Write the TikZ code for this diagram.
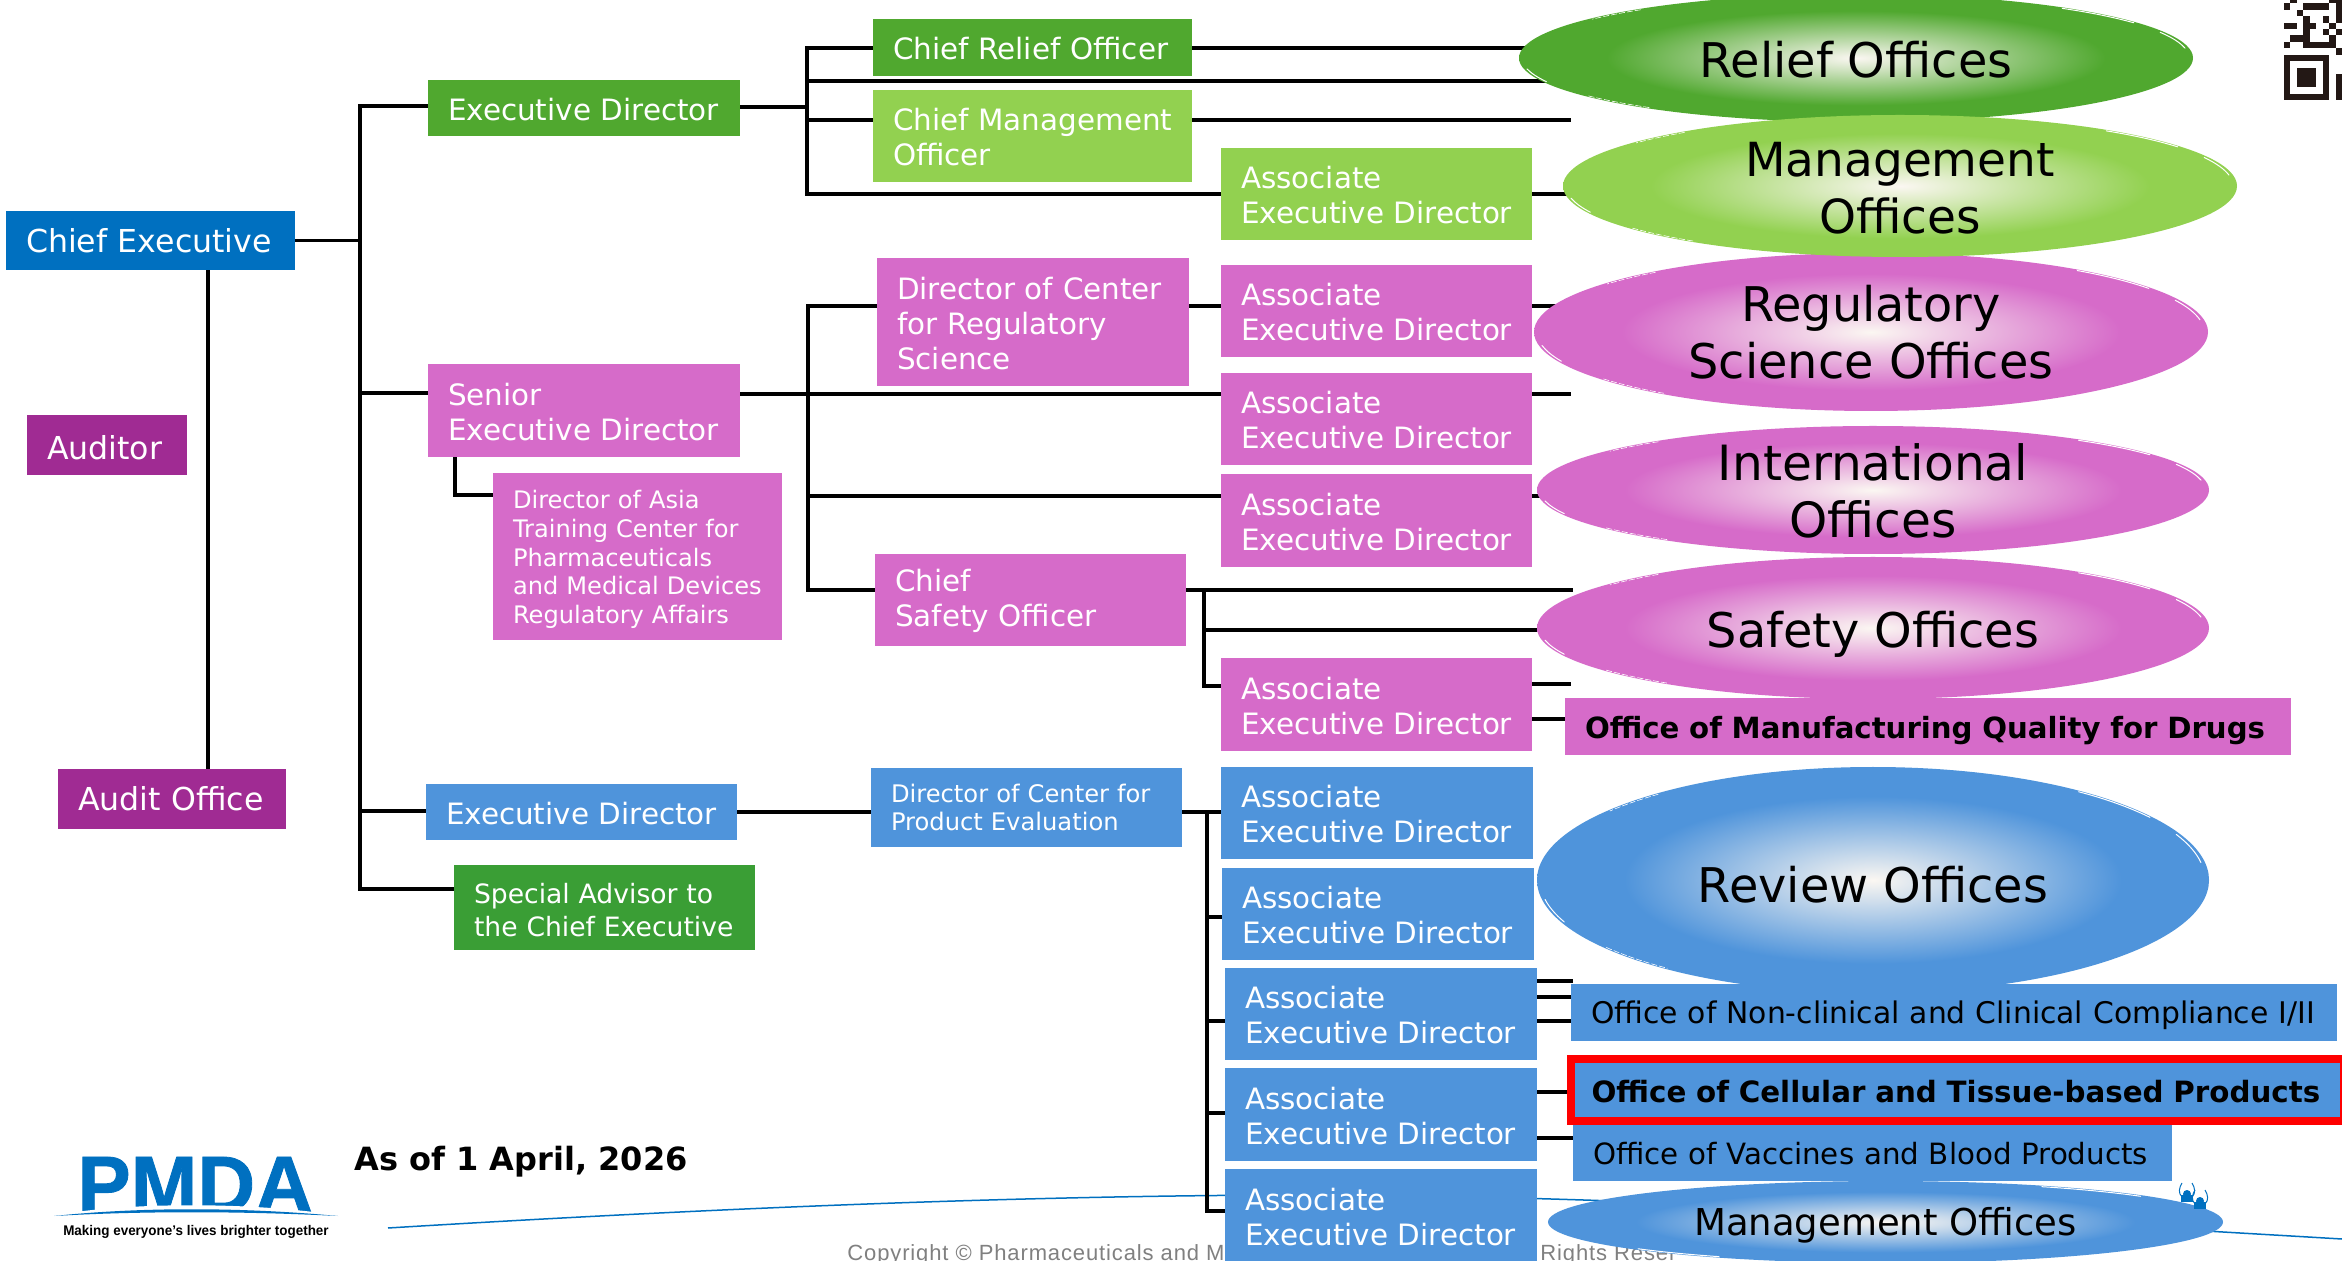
\documentclass[tikz,border=0pt]{standalone}
\usepackage{fontspec}
\setmainfont{DejaVu Sans}
\newfontfamily\lfont{Liberation Sans}
\newfontfamily\logofont[FakeBold=1]{Liberation Sans}
\newfontfamily\cfont[LetterSpace=4]{Liberation Sans}
\usetikzlibrary{shapes.geometric,backgrounds,calc}
\definecolor{cgreen}{HTML}{50A82F}
\definecolor{cgreenb}{HTML}{3A9E35}
\definecolor{clight}{HTML}{92D150}
\definecolor{cpink}{HTML}{D66BC9}
\definecolor{cblue}{HTML}{4F94DB}
\definecolor{cchief}{HTML}{0070C0}
\definecolor{cpurple}{HTML}{A02B93}
\definecolor{cctr}{HTML}{FBF7F2}
\definecolor{cqr}{HTML}{231815}
\definecolor{cgrey}{HTML}{808080}
\pgfdeclareradialshading{shgreen}{\pgfpointorigin}{color(0bp)=(cctr); color(18.5bp)=(cgreen); color(100bp)=(cgreen)}
\pgfdeclareradialshading{shlight}{\pgfpointorigin}{color(0bp)=(cctr); color(18.5bp)=(clight); color(100bp)=(clight)}
\pgfdeclareradialshading{shpink}{\pgfpointorigin}{color(0bp)=(cctr); color(18.5bp)=(cpink); color(100bp)=(cpink)}
\pgfdeclareradialshading{shblue}{\pgfpointorigin}{color(0bp)=(cctr); color(18.5bp)=(cblue); color(100bp)=(cblue)}
\newcommand{\low}[2]{\raisebox{-#1}[\height][\depth]{#2}}
\newcommand{\lowtwo}[2]{\raisebox{-#1}[\height][\depth]{\begin{tabular}{@{}c@{}}#2\end{tabular}}}
\newcommand{\boxtop}{1.2pt}
\newcommand{\bs}[1][10pt]{\leftskip=#1\relax\rule{0pt}{\dimexpr0.76em+\boxtop\relax}}
\tikzset{
  ln/.style={black,line width=1.9pt,line cap=rect},
  boxb/.style={inner xsep=0pt,inner ysep=0pt,outer sep=0pt,align=left,text=white,font=\fontsize{14.7}{17.5}\selectfont},
  noshift/.style={execute at begin node={\renewcommand{\boxtop}{0pt}}},
  shiftby/.style={execute at begin node={\renewcommand{\boxtop}{#1}}},
  bchief/.style={boxb,noshift,fill=cchief,font=\fontsize{15.8}{19}\selectfont},
  bpurple/.style={boxb,noshift,fill=cpurple,font=\fontsize{15.8}{19}\selectfont},
  bdg/.style={boxb,fill=cgreenb},
  bg/.style={boxb,fill=cgreen},
  bl/.style={boxb,fill=clight},
  bp/.style={boxb,fill=cpink},
  bb/.style={boxb,fill=cblue},
  off/.style={boxb,text=black},
  ell/.style={ellipse,inner xsep=-60pt,inner ysep=-40pt,outer sep=0pt,shade,align=center,text=black,font=\fontsize{23.9}{28.6}\selectfont},
  glint/.style={white,line width=0.5pt,line cap=round},
  glintd/.style={white,line width=0.3pt,dash pattern=on 3pt off 1pt},
}
\newcommand{\bx}[7]{\node[#2,anchor=north west,minimum width={(#5-#3)*0.5pt},minimum height={(#6-#4)*0.5pt},text width={(#5-#3)*0.5pt}] (#1) at (#3,-#4) {\bs #7\par};}
\newcommand{\el}[7]{\node[ell,shading=#2,minimum width={2*#5*0.5pt},minimum height={2*#6*0.5pt}] (#1) at (#3,-#4) {#7};
  \draw[glint] ([shift={(9:#5-4 and #6-1)}]#1.center) arc[start angle=9,end angle=24,x radius=#5-4,y radius=#6-1];
  \draw[glint] ([shift={(34:#5-2 and #6-1)}]#1.center) arc[start angle=34,end angle=52,x radius=#5-2,y radius=#6-1];
  \draw[glintd] ([shift={(130:#5-2 and #6-1)}]#1.center) arc[start angle=130,end angle=142,x radius=#5-2,y radius=#6-1];
  \draw[glint] ([shift={(190:#5-3 and #6-1)}]#1.center) arc[start angle=190,end angle=202,x radius=#5-3,y radius=#6-1];
  \draw[glintd] ([shift={(217:#5-2 and #6-1)}]#1.center) arc[start angle=217,end angle=232,x radius=#5-2,y radius=#6-1];}
\begin{document}
\begin{tikzpicture}[x=0.5pt,y=0.5pt]
\useasboundingbox (0,0) rectangle (2342,-1261);
\clip (0,0) rectangle (2342,-1261);
% left column
\bx{ce}{bchief}{6}{211}{295}{270}{Chief Executive}
\bx{aud}{bpurple,shiftby=2.5pt}{27}{415}{187}{475}{Auditor}
\bx{ao}{bpurple}{58}{769}{286}{829}{Audit Office}
\bx{edg}{bg,shiftby=1.5pt}{428}{80}{740}{136}{Executive Director}
\bx{sed}{bp}{428}{364}{740}{457}{Senior\\Executive Director}
\bx{asia}{bp,font=\fontsize{12.05}{14.4}\selectfont,shiftby=3pt}{493}{473}{782}{640}{Director of Asia\\Training Center for\\Pharmaceuticals\\and Medical Devices\\Regulatory Affairs}
\bx{edb}{bb,shiftby=1.5pt}{426}{784}{737}{840}{Executive Director}
\bx{spa}{bdg,font=\fontsize{13.3}{16.5}\selectfont,shiftby=3pt}{454}{865}{755}{950}{Special Advisor to\\the Chief Executive}
% second column
\bx{cro}{bg,shiftby=1.5pt}{873}{19}{1192}{76}{Chief Relief Officer}
\bx{cmo}{bl}{873}{90}{1192}{182}{Chief Management\\Officer}
\bx{dcr}{bp,shiftby=1.5pt}{877}{258}{1189}{386}{Director of Center\\for Regulatory\\Science}
\bx{cso}{bp}{875}{554}{1186}{646}{Chief\\Safety Officer}
\bx{dcp}{bb,font=\fontsize{12.1}{13.8}\selectfont,noshift}{871}{768}{1182}{847}{Director of Center for\\Product Evaluation}
% third column
\bx{a0}{bl}{1221}{148}{1532}{240}{Associate\\Executive Director}
\bx{a1}{bp}{1221}{265}{1532}{357}{Associate\\Executive Director}
\bx{a2}{bp}{1221}{373}{1532}{465}{Associate\\Executive Director}
\bx{a3}{bp}{1221}{474}{1532}{567}{Associate\\Executive Director}
\bx{a4}{bp}{1221}{658}{1532}{751}{Associate\\Executive Director}
\bx{a5}{bb}{1221}{767}{1533}{859}{Associate\\Executive Director}
\bx{a6}{bb}{1222}{868}{1534}{960}{Associate\\Executive Director}
\bx{a7}{bb}{1225}{968}{1537}{1060}{Associate\\Executive Director}
\bx{a8}{bb}{1225}{1068}{1537}{1161}{Associate\\Executive Director}
\bx{a9}{bb}{1225}{1169}{1537}{1262}{Associate\\Executive Director}
% ellipses
\el{rel}{shgreen}{1856}{58}{337}{64}{\low{0.75pt}{Relief Offices}}
\el{reg}{shpink}{1871}{332}{337}{79}{Regulatory\\Science Offices}
\el{mg}{shlight}{1900}{186}{337}{71}{\fontsize{23.5}{28.6}\selectfont\lowtwo{3.75pt}{Management\\Offices}}
\el{intl}{shpink}{1873}{490}{336}{64}{\fontsize{24.3}{28.6}\selectfont\lowtwo{3.75pt}{International\\Offices}}
\el{saf}{shpink}{1873}{628}{336}{71}{\low{3pt}{Safety Offices}}
\el{rev}{shblue}{1873}{880}{336}{113}{\low{2.25pt}{Review Offices}}
\node[ell,shading=shblue,minimum width=337.5pt,minimum height=41pt,font=\fontsize{18.5}{22}\selectfont] (mgb) at (1885.5,-1222) {\low{1.5pt}{Management Offices}};
% right offices
\bx{omq}{off,fill=cpink,font=\fontsize{14.6}{17}\selectfont\bfseries,shiftby=4.5pt}{1565}{698}{2291}{755}{Office of Manufacturing Quality for Drugs}
\bx{onc}{off,fill=cblue,font=\fontsize{14.9}{17}\selectfont,shiftby=3pt}{1571}{984}{2337}{1041}{Office of Non-clinical and Clinical Compliance I/II}
\bx{ovb}{off,fill=cblue,font=\fontsize{14.65}{17}\selectfont,shiftby=1.5pt}{1573}{1124}{2172}{1181}{Office of Vaccines and Blood Products}
\node[off,fill=cblue,draw=red,line width=4pt,anchor=north west,minimum width=386.5pt,minimum height=31pt,text width=386.5pt,font=\fontsize{14.66}{17}\selectfont\bfseries,shiftby=1.5pt] (ocl) at (1570.5,-1059) {\bs[10.5pt]Office of Cellular and Tissue-based Products\par};
% footer, date, logo
\node[anchor=west,inner sep=0pt,font=\fontsize{16}{19}\selectfont\bfseries] (asof) at (354,-1161.5) {As of 1 April, 2026};
\node[anchor=base west,inner sep=0pt,text=cchief,font=\fontsize{40}{40}\logofont\bfseries] (pmda) at (77,-1212) {PMDA};
\fill[white] (56,-1232) -- (56,-1215) .. controls (130,-1202) and (250,-1202) .. (336,-1215) -- (336,-1232) -- cycle;
\fill[cchief] (54,-1216) .. controls (140,-1207) and (240,-1207) .. (338,-1216) .. controls (240,-1211) and (140,-1211) .. cycle;
\node[inner sep=0pt,font=\fontsize{7}{9}\lfont\bfseries] (tag) at (196,-1232) {\scalebox{0.96}[1]{Making everyone’s lives brighter together}};
% people above the last ellipse
\foreach \px/\py in {2187/1194,2200/1201}{
  \fill[cchief] (\px,-\py) circle (4);
  \fill[cchief] (\px-6,-\py-1) rectangle (\px+6,-\py-8);
  \draw[cchief,line width=0.5pt] (\px-5,-\py-3) .. controls (\px-9,-\py+1) and (\px-8,-\py+6) .. (\px-5,-\py+11);
  \draw[cchief,line width=0.5pt] (\px+5,-\py-3) .. controls (\px+9,-\py+1) and (\px+8,-\py+6) .. (\px+5,-\py+11);
}
% QR code fragment
\begin{scope}[shift={(2284,-100)},x=3.225pt,y=3.225pt]
\fill[cqr] (0,0) rectangle (7,7);
\fill[white] (1,1) rectangle (6,6);
\fill[cqr] (2,2) rectangle (5,5);
\fill[cqr] (8,0) rectangle (9.2,4);
\foreach \c/\r in {8/7,0/8,3/8,4/8,5/8,6/8,7/8,1/9,2/9,3/9,7/9,3/10,6/10,8/10,0/11,1/11,3/11,4/11,7/11,3/12,6/12,8/12,2/13,8/13,0/14,3/14,4/14,5/14,6/14,8/14,1/15,7/15,8/15}
  \fill[cqr] (\c,\r) rectangle +(1,1);
\end{scope}
% glint on the last ellipse
\draw[glint] ([shift={(40:333 and 40)}]mgb.center) arc[start angle=40,end angle=62,x radius=333,y radius=40];
\draw[glint] ([shift={(222:333 and 40)}]mgb.center) arc[start angle=222,end angle=240,x radius=333,y radius=40];
% connectors and footer line behind
\begin{pgfonlayer}{background}
\fill[white] (0,0) rectangle (2342,-1261);
\draw[cchief,line width=0.75pt] (388,-1228) .. controls (700,-1209) and (1000,-1196) .. (1290,-1195) .. controls (1600,-1195) and (1900,-1213) .. (2342,-1239);
\node[anchor=base west,inner sep=0pt,text=cgrey,font=\fontsize{11}{13}\cfont] (copya) at (847,-1260) {Copyright © Pharmaceuticals and M};
\node[anchor=base west,inner sep=0pt,text=cgrey,font=\fontsize{11}{13}\cfont] (copyb) at (1540,-1260) {Rights Reser};
\coordinate (tA) at (360,-106);
\coordinate (tS) at (360,-393);
\coordinate (tE) at (360,-811);
\coordinate (tP) at (360,-889);
\coordinate (aX) at (208,0);
\coordinate (asJ) at (455,-495);
\coordinate (g1) at (807,-48);
\coordinate (g81) at (807,-81);
\coordinate (gE) at (807,-107);
\coordinate (g120) at (807,-120);
\coordinate (g2) at (807,-194);
\coordinate (e120) at (1569,-120);
\coordinate (s1) at (808,-306);
\coordinate (sS) at (808,-394);
\coordinate (s3) at (808,-496);
\coordinate (s4) at (808,-590);
\coordinate (e394) at (1569,-394);
\coordinate (e590) at (1571,-590);
\coordinate (v1) at (1204,-590);
\coordinate (v2) at (1204,-630);
\coordinate (v3) at (1204,-686);
\coordinate (e684) at (1569,-684);
\coordinate (y719) at (1532,-719);
\coordinate (b1) at (1207,-812);
\coordinate (b2) at (1207,-917);
\coordinate (b3) at (1207,-1021);
\coordinate (b4) at (1207,-1092);
\coordinate (b5) at (1207,-1113);
\coordinate (b6) at (1207,-1211);
\coordinate (e981) at (1571,-981);
\coordinate (y997) at (1537,-997);
\coordinate (y1138) at (1537,-1138);
\draw[ln] (tA) -- (tP);
\draw[ln] (ce.east) -- (ce.east -| tA);
\draw[ln] (tA) -- (edg.west |- tA);
\draw[ln] (tS) -- (sed.west |- tS);
\draw[ln] (tE) -- (edb.west |- tE);
\draw[ln] (tP) -- (spa.west |- tP);
\draw[ln] (ce.south -| aX) -- (ao.north -| aX);
\draw[ln] (sed.south -| asJ) -- (asJ) -- (asia.west |- asJ);
\draw[ln] (g1) -- (g2);
\draw[ln] (edg.east |- gE) -- (gE);
\draw[ln] (g1) -- (cro.west |- g1);
\draw[ln] (cro.east |- g1) -- (rel.center |- g1);
\draw[ln] (g81) -- (rel.center |- g81);
\draw[ln] (g120) -- (cmo.west |- g120);
\draw[ln] (cmo.east |- g120) -- (e120);
\draw[ln] (g2) -- (a0.west |- g2);
\draw[ln] (a0.east |- g2) -- (mg.center |- g2);
\draw[ln] (s1) -- (s4);
\draw[ln] (s1) -- (dcr.west |- s1);
\draw[ln] (dcr.east |- s1) -- (a1.west |- s1);
\draw[ln] (a1.east |- s1) -- (reg.center |- s1);
\draw[ln] (sed.east |- sS) -- (e394);
\draw[ln] (s3) -- (a3.west |- s3);
\draw[ln] (a3.east |- s3) -- (intl.center |- s3);
\draw[ln] (s4) -- (cso.west |- s4);
\draw[ln] (cso.east |- v1) -- (e590);
\draw[ln] (v1) -- (v3) -- (a4.west |- v3);
\draw[ln] (v2) -- (saf.center |- v2);
\draw[ln] (a4.east |- e684) -- (e684);
\draw[ln] (y719) -- (omq.west |- y719);
\draw[ln] (edb.east |- b1) -- (dcp.west |- b1);
\draw[ln] (dcp.east |- b1) -- (a5.west |- b1);
\draw[ln] (b1) -- (b6);
\draw[ln] (b2) -- (a6.west |- b2);
\draw[ln] (b3) -- (a7.west |- b3);
\draw[ln] (b5) -- (a8.west |- b5);
\draw[ln] (b6) -- (a9.west |- b6);
\draw[ln] (a7.east |- e981) -- (e981);
\draw[ln] (y997) -- (onc.west |- y997);
\draw[ln] (a7.east |- b3) -- (onc.west |- b3);
\draw[ln] (a8.east |- b4) -- (ocl.west |- b4);
\draw[ln] (y1138) -- (ovb.west |- y1138);
\end{pgfonlayer}
\end{tikzpicture}
\end{document}
